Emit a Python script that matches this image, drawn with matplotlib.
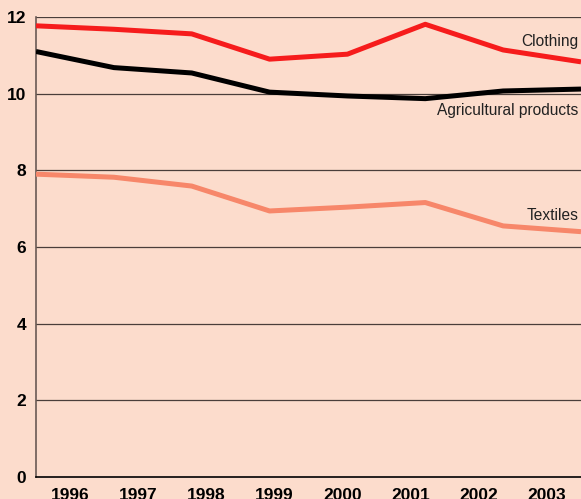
import matplotlib.pyplot as plt
import numpy as np

years = ["1996", "1997", "1998", "1999", "2000", "2001", "2002", "2003"]
clothing = [11.77, 11.68, 11.56, 10.90, 11.03, 11.81, 11.14, 10.83]
agricultural = [11.10, 10.68, 10.54, 10.04, 9.94, 9.87, 10.07, 10.12]
textiles = [7.90, 7.82, 7.59, 6.94, 7.04, 7.16, 6.55, 6.40]

bg = "#fcdccc"
fig = plt.figure(figsize=(5.81, 4.99), dpi=100, facecolor=bg)
ax = fig.add_axes([36 / 581, 22 / 499, 545 / 581, 460 / 499], facecolor=bg)

x = np.arange(len(years))
ax.plot(x, textiles, color="#f7876a", lw=3.6, solid_capstyle="butt", zorder=3)
ax.plot(x, agricultural, color="black", lw=3.6, solid_capstyle="butt", zorder=4)
ax.plot(x, clothing, color="#f61c1c", lw=3.6, solid_capstyle="butt", zorder=5)

ax.set_xlim(0, len(years) - 1)
ax.set_ylim(0, 12)
ax.set_yticks(range(0, 13, 2))
for v in range(2, 13, 2):
    ax.axhline(v, color="#4a3e3a", lw=0.9, zorder=1)

# year labels sit in the middle of each year's slot
slot = (len(years) - 1) / len(years)
ax.set_xticks([(i + 0.5) * slot for i in x])
ax.set_xticklabels(years)
ax.tick_params(length=0)
ax.tick_params(axis="x", pad=8)
ax.tick_params(axis="y", pad=7)
for lab in ax.get_xticklabels() + ax.get_yticklabels():
    lab.set_fontweight("bold")
    lab.set_fontsize(12.5)
    lab.set_family("Liberation Sans")

for s in ["top", "right"]:
    ax.spines[s].set_visible(False)
ax.spines["left"].set_color("#6a5a55")
ax.spines["left"].set_linewidth(1.2)
ax.spines["bottom"].set_color("black")
ax.spines["bottom"].set_linewidth(1.2)

lbl = dict(ha="right", va="center", fontsize=11.2, color="#222222", family="Liberation Sans")
ax.text(6.97, 11.35, "Clothing", **lbl)
ax.text(6.97, 9.55, "Agricultural products", **lbl)
ax.text(6.97, 6.83, "Textiles", **lbl)

fig.savefig("out.png", dpi=100, facecolor=bg)
